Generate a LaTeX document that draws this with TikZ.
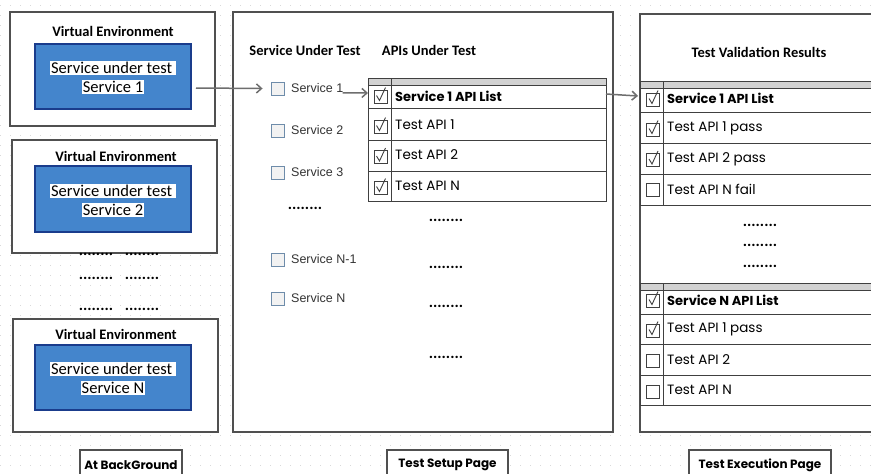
\documentclass[tikz,border=0pt]{standalone}
\usepackage{fontspec}
\setmainfont{Carlito}
\newfontfamily\tahoma{Liberation Sans}
\newfontfamily\comic{Poppins}
\usetikzlibrary{arrows.meta}
\definecolor{bluefill}{RGB}{68,133,204}
\definecolor{blueedge}{RGB}{26,60,140}
\definecolor{frame}{RGB}{80,80,80}
\definecolor{cbedge}{RGB}{110,140,170}
\definecolor{arrowc}{RGB}{110,110,110}
\tikzset{
  outerbox/.style={draw=frame,line width=1.1pt,fill=white},
  bluebox/.style={draw=blueedge,line width=1.6pt,fill=bluefill},
  vetitle/.style={font=\bfseries\fontsize{14.5}{16}\selectfont,inner sep=0pt},
  sutline/.style={fill=white,inner xsep=1pt,inner ysep=1.5pt,font=\fontsize{16.5}{18}\selectfont,text=black},
  coltitle/.style={font=\bfseries\fontsize{14.5}{16}\selectfont,inner sep=0pt},
  svcbox/.style={draw=cbedge,fill=gray!10,line width=0.9pt,minimum size=13pt,inner sep=0pt},
  svclabel/.style={anchor=west,font=\tahoma\fontsize{12.5}{14}\selectfont,text=black!80,inner sep=0pt},
  dotsf/.style={font=\bfseries\fontsize{16}{16}\selectfont,inner sep=0pt},
  tbox/.style={draw=black!75,line width=0.9pt,minimum size=13pt,inner sep=0pt},
  chkline/.style={draw=black!75,line width=0.9pt},
  tlabel/.style={anchor=west,font=\comic\fontsize{13.5}{15}\selectfont,inner sep=0pt},
  tlabelb/.style={anchor=west,font=\comic\bfseries\fontsize{13}{15}\selectfont,inner sep=0pt},
  tline/.style={draw=black!75,line width=0.9pt},
  pagelabel/.style={draw=frame,line width=1.1pt,fill=white,inner sep=0pt},
  pagetext/.style={font=\comic\bfseries\fontsize{12}{14}\selectfont,inner sep=0pt},
  arr/.style={draw=arrowc,line width=1.5pt,-{Straight Barb[length=5pt,width=9pt]}},
}
\begin{document}
\begin{tikzpicture}[x=1pt,y=-1pt]
\useasboundingbox (0,0) rectangle (871,474);
\clip (0,0) rectangle (871,474);
\fill[white] (0,0) rectangle (871,474);
% background dot grid
\foreach \yy in {5,15,...,475}
  \draw[gray!30,line width=0.9pt,dash pattern=on 0.9pt off 9.1pt] (0,\yy) -- (871,\yy);

% ---------------- left column: virtual environments
\draw[outerbox] (10,12) rectangle (215,126);
\node[vetitle] (ve1t) at (113,31) {Virtual Environment};
\draw[bluebox] (35,44) rectangle (191,109);
\node[sutline] (s1a) at (113,68) {Service under test\,};
\node[sutline] (s1b) at (113,87) {Service 1};
\coordinate (blue1e) at (196,88);

\draw[outerbox] (12,140) rectangle (217,253);
\node[vetitle] (ve2t) at (116,156) {Virtual Environment};
\draw[bluebox] (35,166) rectangle (191,232);
\node[sutline] (s2a) at (113,191) {Service under test\,};
\node[sutline] (s2b) at (113,210) {Service 2};

\foreach \yy/\nm in {258/a,282/b,313/c}{
  \node[dotsf] (ld\nm1) at (96,\yy-4) {........};
  \node[dotsf] (ld\nm2) at (142,\yy-4) {........};
}

\draw[outerbox] (13,319) rectangle (218,432);
\node[vetitle] (ve3t) at (116,334) {Virtual Environment};
\draw[bluebox] (35,345) rectangle (191,410);
\node[sutline] (s3a) at (113,369) {Service under test\,};
\node[sutline] (s3b) at (113,388) {Service N};

% ---------------- middle: test setup page
\draw[outerbox] (233,12) rectangle (613,432);
\node[coltitle] (sut) at (305,50) {Service Under Test};
\node[coltitle] (aut) at (429,50) {APIs Under Test};

\node[svcbox] (cb1) at (277.5,88.5) {};
\node[svclabel] (sl1) at (291,88) {Service 1};
\node[svcbox] (cb2) at (277.5,130.5) {};
\node[svclabel] (sl2) at (291,130) {Service 2};
\node[svcbox] (cb3) at (277.5,172.5) {};
\node[svclabel] (sl3) at (291,172) {Service 3};
\node[dotsf] (md0) at (305,208) {........};
\node[svcbox] (cb4) at (277.5,259.5) {};
\node[svclabel] (sl4) at (291,259) {Service N-1};
\node[svcbox] (cb5) at (277.5,298.5) {};
\node[svclabel] (sl5) at (291,298) {Service N};

% API table
\fill[gray!35] (368,78) rectangle (606,85);
\draw[tline] (368,78) rectangle (606,201);
\foreach \yy in {85,108,140,171} \draw[tline] (368,\yy) -- (606,\yy);
\draw[tline] (391,78) -- (391,201);
\node[tbox] (ac1) at (380.5,96.5) {};
\node[tlabelb] (al1) at (395,96) {Service 1 API List};
\node[tbox] (ac2) at (380.5,126.5) {};
\node[tlabel] (al2) at (395,125) {Test API 1};
\node[tbox] (ac3) at (380.5,157) {};
\node[tlabel] (al3) at (395,155) {Test API 2};
\node[tbox] (ac4) at (380.5,187.5) {};
\node[tlabel] (al4) at (395,186) {Test API N};
\coordinate (tabw) at (368,93);
\coordinate (tabe) at (606,94);

\foreach \yy/\nm in {224/a,271/b,310/c,361/d}
  \node[dotsf] (cd\nm) at (446,\yy-4) {........};

% ---------------- right: test execution page
\draw[outerbox] (640,14) rectangle (890,432);
\node[coltitle] (tvr) at (759,52) {Test Validation Results};

\fill[gray!35] (640,81) rectangle (890,88);
\draw[tline] (640,81) rectangle (890,205);
\foreach \yy in {88,112,143,174} \draw[tline] (640,\yy) -- (890,\yy);
\draw[tline] (663,81) -- (663,205);
\node[tbox] (rc1) at (653,99.5) {};
\node[tlabelb] (rl1) at (667,98) {Service 1 API List};
\node[tbox] (rc2) at (653,129.5) {};
\node[tlabel] (rl2) at (667,128) {Test API 1 pass};
\node[tbox] (rc3) at (653,160) {};
\node[tlabel] (rl3) at (667,159) {Test API 2 pass};
\node[tbox] (rc4) at (653,190) {};
\node[tlabel] (rl4) at (667,189) {Test API N fail};
\coordinate (rtw) at (638,96);

\foreach \yy/\nm in {229/a,249/b,270/c}
  \node[dotsf] (rd\nm) at (760,\yy-4) {........};

\fill[gray!35] (640,283) rectangle (890,290);
\draw[tline] (640,283) rectangle (890,405);
\foreach \yy in {290,314,344,375} \draw[tline] (640,\yy) -- (890,\yy);
\draw[tline] (663,283) -- (663,405);
\node[tbox] (rc5) at (653,300.5) {};
\node[tlabelb] (rl5) at (667,300) {Service N API List};
\node[tbox] (rc6) at (653,330.5) {};
\node[tlabel] (rl6) at (667,329) {Test API 1 pass};
\node[tbox] (rc7) at (653,361) {};
\node[tlabel] (rl7) at (667,360) {Test API 2};
\node[tbox] (rc8) at (653,391.5) {};
\node[tlabel] (rl8) at (667,390) {Test API N};

% check marks
\foreach \n in {ac1,ac2,ac3,ac4,rc1,rc2,rc3,rc5,rc6}
  \draw[chkline] ([shift={(-4,-1)}]\n.center) -- ([shift={(-1,4)}]\n.center) -- ([shift={(5,-9)}]\n.center);

% ---------------- arrows
\draw[arr] (blue1e) -- ([xshift=-8pt]cb1.west);
\draw[arr] ([xshift=-1pt]sl1.south east) -- (tabw);
\draw[arr] (tabe) -- (rtw);

% ---------------- page labels
\node[pagelabel,minimum width=102pt,minimum height=30pt] (bg) at (131,465) {};
\node[pagetext] (bgt) at (131,465) {At BackGround};
\node[pagelabel,minimum width=121pt,minimum height=30pt] (tsp) at (447.5,465) {};
\node[pagetext] (tspt) at (447.5,465) {Test Setup Page};
\node[pagelabel,minimum width=142pt,minimum height=30pt] (tep) at (760,465) {};
\node[pagetext] (tept) at (760,465) {Test Execution Page};
\end{tikzpicture}
\end{document}
